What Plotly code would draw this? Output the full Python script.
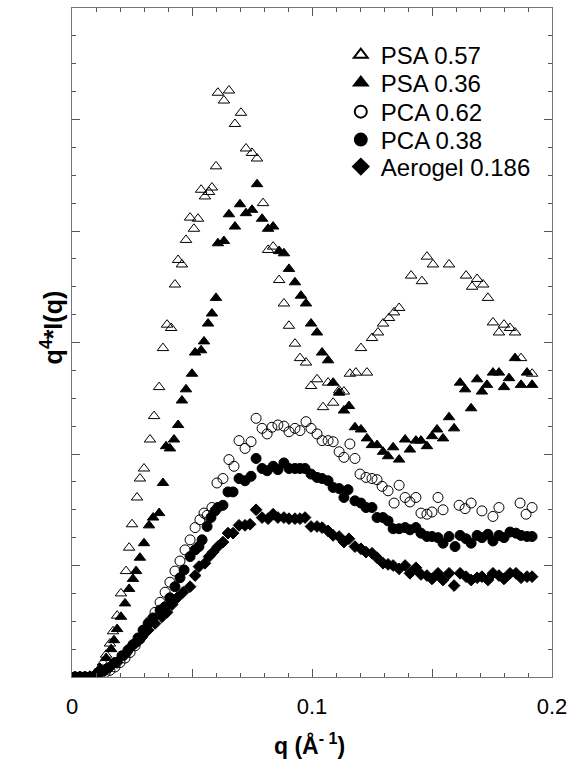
import plotly.graph_objects as go

# ---- data (q in 1/Angstrom, q^4*I(q) in arbitrary units) ----
psa57_q = [0.0033, 0.0054, 0.0075, 0.0096, 0.0117, 0.0129, 0.0142, 0.0158, 0.0171, 0.0188,
           0.0204, 0.0225, 0.0238, 0.025, 0.0271, 0.0283, 0.03, 0.0325, 0.0342, 0.0363,
           0.0379, 0.0396, 0.0413, 0.0429, 0.0442, 0.0458, 0.0475, 0.0492, 0.0508, 0.0525,
           0.0538, 0.0554, 0.0571, 0.0583, 0.06, 0.0608, 0.0633, 0.0654, 0.0679, 0.0704,
           0.0725, 0.075, 0.0771, 0.0796, 0.0817, 0.0838, 0.0863, 0.0883, 0.0904, 0.0929,
           0.095, 0.0975, 0.0996, 0.1021, 0.1046, 0.1067, 0.1088, 0.1113, 0.1133, 0.1158,
           0.1183, 0.1204, 0.1229, 0.125, 0.1275, 0.1296, 0.1321, 0.1342, 0.1363, 0.1413,
           0.1458, 0.1479, 0.1504, 0.1571, 0.1642, 0.1667, 0.1688, 0.1713, 0.1733, 0.1754,
           0.1779, 0.18, 0.1825, 0.1846, 0.1871, 0.1917]
psa57_y = [0.0, 0.0, 0.01, 0.03, 0.08, 0.13, 0.20, 0.30, 0.41, 0.55,
           0.75, 0.95, 1.16, 1.37, 1.61, 1.78, 1.87, 2.13, 2.34, 2.60,
           2.95, 3.16, 3.13, 3.52, 3.74, 3.70, 3.92, 4.12, 4.02, 4.11,
           4.37, 4.31, 4.35, 4.39, 4.58, 5.24, 5.17, 5.26, 4.96, 5.06,
           4.74, 4.70, 4.65, 4.25, 3.83, 3.86, 3.56, 3.35, 3.15, 2.99,
           2.86, 2.82, 2.61, 2.67, 2.42, 2.64, 2.46, 2.57, 2.56, 2.72,
           2.73, 2.95, 2.73, 3.04, 3.09, 3.17, 3.22, 3.27, 3.31, 3.60,
           3.55, 3.77, 3.70, 3.70, 3.60, 3.50, 3.57, 3.52, 3.40, 3.18,
           3.09, 3.16, 3.13, 3.09, 2.86, 2.72]

psa36_q = [0.0033, 0.0054, 0.0075, 0.0096, 0.0117, 0.0142, 0.0163, 0.0175, 0.0188, 0.0204,
           0.0221, 0.0238, 0.0254, 0.0267, 0.0283, 0.03, 0.0321, 0.0338, 0.0363, 0.0379,
           0.0392, 0.0408, 0.0425, 0.0442, 0.0458, 0.0475, 0.05, 0.0513, 0.0538, 0.055,
           0.0567, 0.0583, 0.06, 0.0608, 0.0633, 0.0654, 0.0679, 0.07, 0.0725, 0.075,
           0.0771, 0.0792, 0.0817, 0.0838, 0.0863, 0.0883, 0.0904, 0.0929, 0.0954, 0.0975,
           0.0996, 0.1021, 0.1042, 0.1067, 0.1088, 0.1113, 0.1133, 0.1154, 0.1179, 0.1204,
           0.1229, 0.125, 0.1271, 0.1296, 0.1317, 0.1338, 0.1363, 0.1388, 0.1408, 0.1433,
           0.1454, 0.1479, 0.15, 0.1521, 0.1546, 0.1571, 0.1592, 0.1617, 0.1638, 0.1663,
           0.1688, 0.1708, 0.1729, 0.1754, 0.1779, 0.18, 0.1821, 0.1846, 0.1871, 0.1896,
           0.1917]
psa36_y = [0.0, 0.0, 0.01, 0.03, 0.08, 0.17, 0.25, 0.33, 0.43, 0.54,
           0.66, 0.79, 0.88, 0.95, 1.07, 1.20, 1.36, 1.43, 1.47, 1.74,
           2.07, 2.05, 2.13, 2.26, 2.48, 2.58, 2.72, 2.91, 2.93, 3.01,
           3.17, 3.26, 3.40, 3.89, 3.91, 4.15, 4.04, 4.24, 4.16, 4.19,
           4.42, 4.11, 4.02, 4.04, 3.82, 3.80, 3.66, 3.54, 3.42, 3.35,
           3.17, 3.09, 2.91, 2.84, 2.64, 2.55, 2.39, 2.43, 2.24, 2.22,
           2.14, 2.08, 2.08, 2.02, 1.98, 2.06, 1.95, 2.13, 2.04, 2.12,
           2.12, 2.07, 2.16, 2.22, 2.14, 2.33, 2.23, 2.64, 2.58, 2.41,
           2.67, 2.56, 2.62, 2.73, 2.73, 2.60, 2.68, 2.86, 2.62, 2.73,
           2.62]

pca62_q = [0.0013, 0.0033, 0.0054, 0.0075, 0.0096, 0.0117, 0.0138, 0.0158, 0.0179, 0.02,
           0.0221, 0.0242, 0.0263, 0.0283, 0.0304, 0.0325, 0.0346, 0.0367, 0.0388, 0.0408,
           0.0429, 0.045, 0.0471, 0.0492, 0.0513, 0.0533, 0.055, 0.0563, 0.0583, 0.0604,
           0.0629, 0.0654, 0.0675, 0.0696, 0.0721, 0.0746, 0.0767, 0.0792, 0.0813, 0.0833,
           0.0858, 0.0883, 0.0904, 0.0929, 0.095, 0.0975, 0.0996, 0.1021, 0.1042, 0.1067,
           0.1088, 0.1113, 0.1133, 0.1158, 0.1179, 0.12, 0.1225, 0.125, 0.1271, 0.1292,
           0.1317, 0.1342, 0.1363, 0.1388, 0.1408, 0.1433, 0.1454, 0.1479, 0.15, 0.1525,
           0.1546, 0.1613, 0.1638, 0.1663, 0.1708, 0.1754, 0.1779, 0.1867, 0.1892, 0.1917]
pca62_y = [0.0, 0.0, 0.0, 0.0, 0.01, 0.02, 0.04, 0.06, 0.09, 0.13,
           0.17, 0.22, 0.28, 0.34, 0.42, 0.50, 0.58, 0.67, 0.76, 0.85,
           0.95, 1.04, 1.14, 1.23, 1.34, 1.41, 1.47, 1.45, 1.52, 1.74,
           1.78, 1.95, 1.89, 2.12, 2.05, 2.11, 2.32, 2.23, 2.18, 2.24,
           2.26, 2.25, 2.20, 2.23, 2.21, 2.29, 2.23, 2.18, 2.12, 2.12,
           2.11, 2.02, 1.97, 2.09, 1.96, 1.82, 1.79, 1.78, 1.77, 1.71,
           1.67, 1.56, 1.72, 1.61, 1.57, 1.61, 1.47, 1.46, 1.48, 1.61,
           1.50, 1.54, 1.51, 1.56, 1.49, 1.44, 1.52, 1.56, 1.46, 1.52]

pca38_q = [0.0013, 0.0033, 0.0054, 0.0075, 0.0096, 0.0117, 0.015, 0.0179, 0.0208, 0.0233,
           0.0254, 0.0275, 0.0296, 0.0317, 0.0338, 0.0367, 0.0388, 0.0408, 0.0429, 0.045,
           0.0467, 0.0492, 0.0513, 0.0529, 0.0542, 0.0563, 0.0579, 0.0596, 0.0608, 0.0629,
           0.065, 0.0671, 0.0696, 0.0721, 0.0746, 0.0767, 0.0792, 0.0813, 0.0838, 0.0858,
           0.0883, 0.0904, 0.0929, 0.095, 0.0971, 0.0996, 0.1021, 0.1042, 0.1067, 0.1088,
           0.1113, 0.1133, 0.115, 0.1179, 0.1204, 0.1225, 0.125, 0.1271, 0.1296, 0.1317,
           0.1338, 0.1363, 0.1388, 0.1408, 0.1433, 0.1454, 0.1479, 0.15, 0.1525, 0.1546,
           0.1571, 0.1596, 0.1617, 0.1642, 0.1663, 0.1688, 0.1708, 0.1733, 0.1754, 0.1779,
           0.18, 0.1825, 0.185, 0.1871, 0.1896, 0.1917]
pca38_y = [0.0, 0.0, 0.0, 0.0, 0.01, 0.04, 0.08, 0.13, 0.19, 0.24,
           0.29, 0.35, 0.42, 0.48, 0.53, 0.60, 0.63, 0.71, 0.81, 0.89,
           0.96, 1.08, 1.14, 1.17, 1.23, 1.35, 1.43, 1.49, 1.52, 1.54,
           1.66, 1.66, 1.78, 1.76, 1.80, 1.96, 1.87, 1.85, 1.89, 1.86,
           1.92, 1.87, 1.87, 1.87, 1.87, 1.82, 1.79, 1.78, 1.76, 1.70,
           1.69, 1.61, 1.68, 1.58, 1.56, 1.52, 1.52, 1.43, 1.43, 1.40,
           1.33, 1.33, 1.34, 1.32, 1.34, 1.29, 1.26, 1.26, 1.25, 1.20,
           1.26, 1.17, 1.27, 1.24, 1.20, 1.27, 1.25, 1.28, 1.22, 1.27,
           1.25, 1.30, 1.29, 1.27, 1.26, 1.26]

aero_q = [0.0013, 0.0033, 0.0054, 0.0075, 0.0096, 0.0117, 0.0138, 0.0158, 0.0188, 0.0221,
          0.0254, 0.0275, 0.0292, 0.0317, 0.0346, 0.0375, 0.0396, 0.0417, 0.0438, 0.0463,
          0.0492, 0.0513, 0.0529, 0.0554, 0.0571, 0.0588, 0.0608, 0.0629, 0.065, 0.0671,
          0.0696, 0.0721, 0.0742, 0.0767, 0.0792, 0.0817, 0.0838, 0.0858, 0.0883, 0.0904,
          0.0929, 0.095, 0.0971, 0.0996, 0.1021, 0.1042, 0.1067, 0.1088, 0.1113, 0.1133,
          0.1154, 0.1179, 0.1204, 0.1225, 0.125, 0.1271, 0.1296, 0.1317, 0.1338, 0.1363,
          0.1388, 0.1408, 0.1433, 0.1454, 0.1479, 0.15, 0.1525, 0.1546, 0.1571, 0.1592,
          0.1617, 0.1642, 0.1663, 0.1688, 0.1708, 0.1733, 0.1754, 0.1779, 0.18, 0.1825,
          0.185, 0.1871, 0.1896, 0.1917]
aero_y = [0.0, 0.0, 0.0, 0.0, 0.0, 0.04, 0.06, 0.09, 0.13, 0.20,
          0.29, 0.32, 0.36, 0.42, 0.48, 0.54, 0.58, 0.65, 0.71, 0.76,
          0.81, 0.91, 0.99, 1.02, 1.08, 1.12, 1.17, 1.21, 1.29, 1.29,
          1.36, 1.36, 1.37, 1.50, 1.43, 1.42, 1.46, 1.43, 1.43, 1.42,
          1.42, 1.42, 1.43, 1.35, 1.35, 1.34, 1.31, 1.27, 1.26, 1.21,
          1.24, 1.17, 1.15, 1.12, 1.11, 1.07, 1.02, 1.01, 1.00, 0.97,
          1.00, 0.93, 0.98, 0.92, 0.91, 0.88, 0.93, 0.87, 0.93, 0.82,
          0.93, 0.90, 0.87, 0.89, 0.90, 0.87, 0.93, 0.91, 0.88, 0.93,
          0.93, 0.89, 0.90, 0.90]

x_tickvals = [0, 0.05, 0.1, 0.15, 0.2]
x_ticktext = ["0", "", "0.1", "", "0.2"]
y_tickvals = [0, 1, 2, 3, 4, 5, 6]

series = [
    ("PSA 0.57", psa57_q, psa57_y, "triangle-up-open", 10),
    ("PSA 0.36", psa36_q, psa36_y, "triangle-up", 10),
    ("PCA 0.62", pca62_q, pca62_y, "circle-open", 10),
    ("PCA 0.38", pca38_q, pca38_y, "circle", 10),
    ("Aerogel 0.186", aero_q, aero_y, "diamond", 9),
]
legend_ids = ["legend", "legend2", "legend3", "legend4", "legend5"]
legend_ys = [0.9297, 0.8879, 0.8445, 0.8027, 0.7623]

font_main = "Liberation Sans, Arial, sans-serif"

fig = go.Figure()
for (name, q, y, sym, size), lid in zip(series, legend_ids):
    fig.add_trace(go.Scatter(
        x=q, y=y, mode="markers", name=name, legend=lid,
        marker=dict(symbol=sym, size=size, color="black",
                    line=dict(color="black", width=1)),
    ))

legend_layout = {}
for lid, ly in zip(legend_ids, legend_ys):
    legend_layout[lid] = dict(
        x=0.56, y=ly, xanchor="left", yanchor="middle",
        font=dict(family=font_main, size=24, color="black"),
        bgcolor="rgba(0,0,0,0)", itemsizing="constant",
    )

fig.update_layout(
    width=583, height=772,
    margin=dict(l=72, r=31, t=8, b=95),
    paper_bgcolor="white", plot_bgcolor="white",
    showlegend=True,
    font=dict(family=font_main, color="black"),
    **legend_layout,
)
fig.update_xaxes(
    range=[0, 0.2], tickvals=x_tickvals, ticktext=x_ticktext,
    ticks="inside", ticklen=8, tickcolor="#555", tickwidth=1,
    minor=dict(dtick=0.01, ticks="inside", ticklen=4, tickcolor="#555"),
    showline=True, linecolor="#777", linewidth=1, mirror="allticks",
    showgrid=False, zeroline=False,
    tickfont=dict(family=font_main, size=22, color="black"),
    ticklabelstandoff=10,
)
fig.update_yaxes(
    range=[0, 6], tickvals=y_tickvals, showticklabels=False,
    ticks="inside", ticklen=8, tickcolor="#555", tickwidth=1,
    minor=dict(dtick=0.25, ticks="inside", ticklen=4, tickcolor="#555"),
    showline=True, linecolor="#777", linewidth=1, mirror="allticks",
    showgrid=False, zeroline=False,
)
fig.add_annotation(text="<b>q (Å<sup>- 1</sup>)</b>", xref="paper", yref="paper",
                   x=0.494, y=-0.125, showarrow=False,
                   font=dict(family=font_main, size=23, color="black"))
fig.add_annotation(text="<b>q<sup>4</sup>*I(q)</b>", xref="paper", yref="paper",
                   x=-0.08, y=0.522, textangle=-90, showarrow=False,
                   font=dict(family=font_main, size=25, color="black"))

fig.write_html("out.html")
